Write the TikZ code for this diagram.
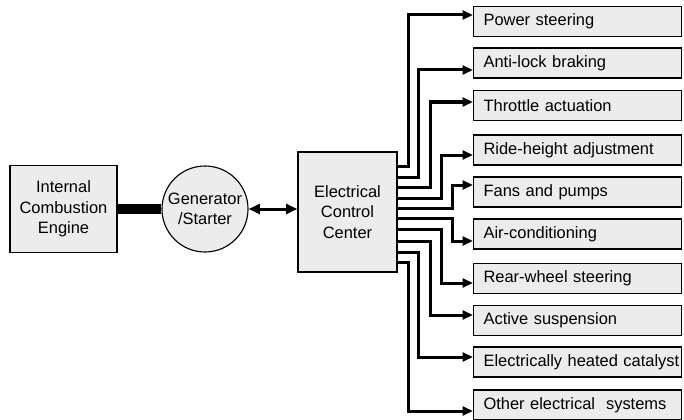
\documentclass[tikz,border=0pt]{standalone}
\usepackage{fontspec}
\setmainfont{Liberation Sans}
\usetikzlibrary{arrows.meta}
\definecolor{boxgray}{RGB}{236,236,236}

\begin{document}
\begin{tikzpicture}[
    x=0.025cm, y=-0.025cm,
    every node/.style={font=\fontsize{11.7}{14.6}\selectfont},
    block/.style={draw, line width=0.8pt, fill=boxgray, align=center},
    load/.style={draw, line width=0.8pt, fill=boxgray, anchor=west,
        minimum height=0.75cm, text width=4.7cm, inner xsep=0.25cm,
        align=left},
    shaft/.style={line width=0.25cm},
    feed/.style={line width=0.075cm, ->,
        >={Triangle[length=0.26cm, width=0.22cm]}},
    link/.style={line width=0.075cm, <->,
        >={Triangle[length=0.28cm, width=0.24cm]}}
    ]

\useasboundingbox (0,0) rectangle (684,420);

\node[block, minimum width=2.675cm, minimum height=2.175cm] (engine)
    at (63.5,209) {Internal\\Combustion\\Engine};

\node[block, circle, minimum size=2.15cm, inner sep=0pt] (gen)
    at (205,209) {Generator\\/Starter};

\node[block, minimum width=2.475cm, minimum height=3cm] (ecc)
    at (347.5,212) {Electrical\\Control\\Center};

\draw[shaft] (engine.east) -- (gen.west);
\draw[link] (gen.east) -- (ecc.west |- gen.east);

\node[load] (power) at (473,21.5) {Power steering};
\node[load] (abs) at (473,63) {Anti-lock braking};
\node[load] (throttle) at (473,105.5) {Throttle actuation};
\node[load] (ride) at (473,150) {Ride-height adjustment};
\node[load] (fans) at (473,192) {Fans and pumps};
\node[load] (aircon) at (473,234) {Air-conditioning};
\node[load] (rear) at (473,278.5) {Rear-wheel steering};
\node[load] (active) at (473,320.5) {Active suspension};
\node[load] (catalyst) at (473,362) {\mbox{Electrically heated catalyst}};
\node[load] (other) at (473,405) {Other electrical\ \ systems};

\draw[feed] (ecc.east |- 0,166) -- (408,166) -- (408,15)
    -- (power.west |- 0,15);
\draw[feed] (ecc.east |- 0,177) -- (418,177) -- (418,70)
    -- (abs.west |- 0,70);
\draw[feed] (ecc.east |- 0,187) -- (430,187) -- (430,102)
    -- (throttle.west |- 0,102);
\draw[feed] (ecc.east |- 0,198) -- (441,198) -- (441,155)
    -- (ride.west |- 0,155);
\draw[feed] (ecc.east |- 0,208) -- (452,208) -- (452,185)
    -- (fans.west |- 0,185);
\draw[feed] (ecc.east |- 0,218) -- (452,218) -- (452,241)
    -- (aircon.west |- 0,241);
\draw[feed] (ecc.east |- 0,229) -- (441,229) -- (441,283)
    -- (rear.west |- 0,283);
\draw[feed] (ecc.east |- 0,241) -- (430,241) -- (430,315)
    -- (active.west |- 0,315);
\draw[feed] (ecc.east |- 0,252) -- (418,252) -- (418,357)
    -- (catalyst.west |- 0,357);
\draw[feed] (ecc.east |- 0,262) -- (408,262) -- (408,411)
    -- (other.west |- 0,411);

\end{tikzpicture}
\end{document}
